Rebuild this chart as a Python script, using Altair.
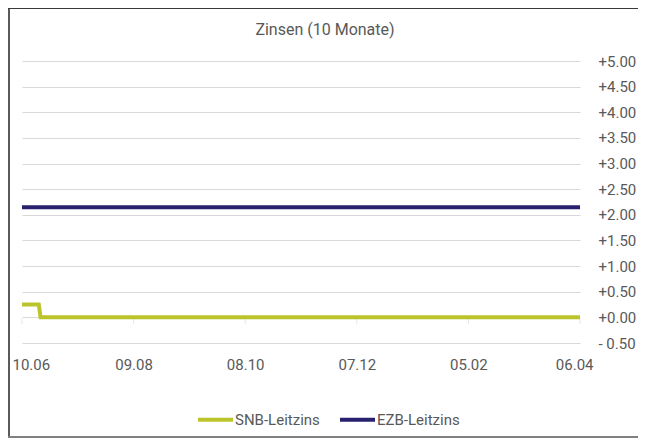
import altair as alt
import pandas as pd

# ---- data ----
snb_dates = ["2025-06-10T00:00", "2025-06-19T00:00", "2025-06-20T00:00", "2026-04-06T00:00"]
snb_values = [0.25, 0.25, 0.0, 0.0]
ezb_dates = ["2025-06-10T00:00", "2026-04-06T00:00"]
ezb_values = [2.15, 2.15]
series_names = ["SNB-Leitzins", "EZB-Leitzins"]
series_colors = ["#BCC42B", "#27216F"]
tick_dates = ["2025-06-10T00:00", "2025-08-09T00:00", "2025-10-08T00:00",
              "2025-12-07T00:00", "2026-02-05T00:00", "2026-04-06T00:00"]
y_ticks = [-0.5, 0.0, 0.5, 1.0, 1.5, 2.0, 2.5, 3.0, 3.5, 4.0, 4.5, 5.0]
title_text = "Zinsen (10 Monate)"

rows = []
for d, v in zip(snb_dates, snb_values):
    rows.append({"date": d, "value": v, "series": series_names[0]})
for d, v in zip(ezb_dates, ezb_values):
    rows.append({"date": d, "value": v, "series": series_names[1]})
df = pd.DataFrame(rows)
ticks_df = pd.DataFrame({"date": tick_dates, "value": [0.0] * len(tick_dates)})

FONT = "Roboto"
GREY = "#595959"

def dt(s):
    y, m, d = s[:10].split("-")
    return alt.DateTime(year=int(y), month=int(m), date=int(d))

x_enc = alt.X(
    "date:T",
    scale=alt.Scale(domain=[dt(tick_dates[0]), dt(tick_dates[-1])], nice=False),
    axis=alt.Axis(
        values=[dt(s) for s in tick_dates],
        format="%d.%m",
        title=None,
        ticks=False,
        domain=False,
        grid=False,
        labelPadding=14,
        labelFontSize=15,
        labelFont=FONT,
        labelColor=GREY,
        labelFlush=True,
        labelOffset=alt.expr("datum.index == 0 ? -10 : (datum.index == 1 ? 13 : 0)"),
    ),
)
y_enc = alt.Y(
    "value:Q",
    scale=alt.Scale(domain=[-0.5, 5.0], nice=False, zero=False),
    axis=alt.Axis(
        orient="right",
        values=y_ticks,
        title=None,
        ticks=False,
        domain=False,
        grid=True,
        gridColor="#D9D9D9",
        gridWidth=1,
        labelPadding=18,
        labelFontSize=15,
        labelFont=FONT,
        labelColor=GREY,
        labelAlign="left",
        labelExpr="datum.value < 0 ? '- ' + format(-datum.value, '.2f') : '+' + format(datum.value, '.2f')",
    ),
)

tick_layer = alt.Chart(ticks_df).mark_tick(
    orient="vertical", size=5, thickness=1, color="#D9D9D9", yOffset=4
).encode(x=x_enc, y=y_enc)

lines = alt.Chart(df).mark_line(strokeWidth=4, strokeCap="butt", strokeJoin="miter").encode(
    x=x_enc,
    y=y_enc,
    color=alt.Color(
        "series:N",
        scale=alt.Scale(domain=series_names, range=series_colors),
        legend=alt.Legend(
            title=None,
            orient="none",
            direction="horizontal",
            legendX=174,
            legendY=339,
            symbolType="stroke",
            symbolSize=1225,
            symbolStrokeWidth=4,
            labelFontSize=15,
            labelFont=FONT,
            labelColor=GREY,
            labelOffset=0,
            columnPadding=12,
        ),
    ),
)

frame_data = alt.Data(values=[{"k": 1}])
frame_left = alt.Chart(frame_data).mark_rule(color="#5A5A5A", strokeWidth=2).encode(
    x=alt.value(-13), y=alt.value(-53), y2=alt.value(377)
)
frame_top = alt.Chart(frame_data).mark_rule(color="#3A3A3A", strokeWidth=1).encode(
    x=alt.value(-14), x2=alt.value(616), y=alt.value(-52.5)
)
frame_bottom = alt.Chart(frame_data).mark_rule(color="#808080", strokeWidth=2).encode(
    x=alt.value(-14), x2=alt.value(616), y=alt.value(376)
)

chart = alt.layer(tick_layer, lines, frame_left, frame_top, frame_bottom).properties(
    width=558,
    height=282,
    title=alt.TitleParams(
        text=title_text,
        font=FONT,
        fontSize=16,
        fontWeight="normal",
        color=GREY,
        anchor="middle",
        frame="group",
        dx=24,
        dy=43,
        offset=12,
    ),
    autosize=alt.AutoSizeParams(type="none"),
    padding={"left": 14, "top": 53, "right": 58, "bottom": 95},
).configure(background="white").configure_view(stroke=None)

chart.save("out.html", embed_options={"renderer": "svg", "actions": False})
